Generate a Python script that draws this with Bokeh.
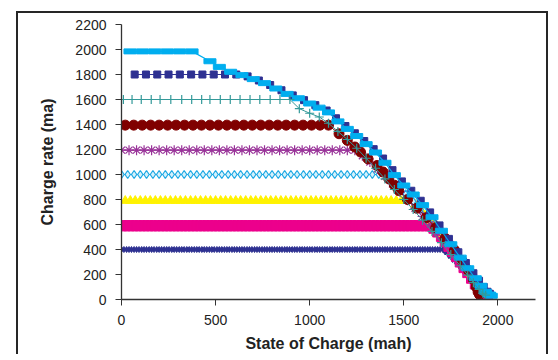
from bokeh.plotting import figure
from bokeh.models import Range1d, FixedTicker
from bokeh.embed import file_html
from bokeh.resources import INLINE

# ---------------- data ----------------
x_ticks = [0, 500, 1000, 1500, 2000]
y_ticks = [0, 200, 400, 600, 800, 1000, 1200, 1400, 1600, 1800, 2000, 2200]

# 400 ma series
s400_level = 400
s400_flat_x = [0, 13, 27, 40, 53, 67, 80, 93, 107, 120, 133, 147, 160, 173, 187, 200, 213, 227, 240, 253,
               267, 280, 293, 307, 320, 333, 347, 360, 373, 387, 400, 413, 427, 440, 453, 467, 480, 493, 507,
               520, 533, 547, 560, 573, 587, 600, 613, 627, 640, 653, 667, 680, 693, 707, 720, 733, 747, 760,
               773, 787, 800, 813, 827, 840, 853, 867, 880, 893, 907, 920, 933, 947, 960, 973, 987, 1000, 1013,
               1027, 1040, 1053, 1067, 1080, 1093, 1107, 1120, 1133, 1147, 1160, 1173, 1187, 1200, 1213, 1227,
               1240, 1253, 1267, 1280, 1293, 1307, 1320, 1333, 1347, 1360, 1373, 1387, 1400, 1413, 1427, 1440,
               1453, 1467, 1480, 1493, 1507, 1520, 1533, 1547, 1560, 1573, 1587, 1600, 1613, 1627, 1640, 1653,
               1667, 1680, 1693, 1707]
s400_taper_x = [1720, 1740, 1760, 1780, 1800, 1820, 1840, 1860, 1880, 1900, 1920, 1940]
s400_taper_y = [380, 350, 320, 290, 255, 220, 185, 150, 115, 85, 60, 40]

# 600 ma series
s600_level = 590
s600_flat_x = [0, 20, 40, 60, 80, 100, 120, 140, 160, 180, 200, 220, 240, 260, 280, 300, 320, 340, 360, 380,
               400, 420, 440, 460, 480, 500, 520, 540, 560, 580, 600, 620, 640, 660, 680, 700, 720, 740, 760,
               780, 800, 820, 840, 860, 880, 900, 920, 940, 960, 980, 1000, 1020, 1040, 1060, 1080, 1100, 1120,
               1140, 1160, 1180, 1200, 1220, 1240, 1260, 1280, 1300, 1320, 1340, 1360, 1380, 1400, 1420, 1440,
               1460, 1480, 1500, 1520, 1540, 1560, 1580, 1600, 1620, 1640]
s600_taper_x = [1660, 1680, 1700, 1720, 1740, 1760, 1780, 1800, 1820, 1840, 1860, 1880, 1900, 1920, 1945]
s600_taper_y = [570, 540, 505, 465, 425, 385, 345, 300, 255, 215, 170, 125, 85, 55, 35]

# 800 ma series
s800_level = 790
s800_flat_x = [20, 47, 73, 100, 127, 153, 180, 207, 233, 260, 287, 313, 340, 367, 393, 420, 447, 473, 500, 527,
               553, 580, 607, 633, 660, 687, 713, 740, 767, 793, 820, 847, 873, 900, 927, 953, 980, 1007, 1033,
               1060, 1087, 1113, 1140, 1167, 1193, 1220, 1247, 1273, 1300, 1327, 1353, 1380, 1407, 1433, 1460,
               1487, 1513, 1540]
s800_taper_x = [1560, 1590, 1620, 1650, 1680, 1710, 1740, 1770, 1800, 1830, 1855, 1880, 1900, 1920, 1940]
s800_taper_y = [760, 720, 675, 630, 580, 525, 465, 400, 335, 270, 210, 150, 100, 60, 40]

# 1000 ma series
s1000_level = 1000
s1000_flat_x = [0, 33, 67, 100, 133, 167, 200, 233, 267, 300, 333, 367, 400, 433, 467, 500, 533, 567, 600, 633,
                667, 700, 733, 767, 800, 833, 867, 900, 933, 967, 1000, 1033, 1067, 1100, 1133, 1167, 1200,
                1233, 1267, 1300, 1333, 1367, 1400]
s1000_taper_x = [1430, 1470, 1510, 1550, 1590, 1630, 1670, 1710, 1750, 1790, 1830, 1860, 1885, 1905, 1920, 1935]
s1000_taper_y = [960, 905, 845, 785, 720, 655, 585, 510, 435, 360, 280, 215, 150, 100, 60, 40]

# 1200 ma series
s1200_level = 1195
s1200_flat_x = [0, 40, 80, 120, 160, 200, 240, 280, 320, 360, 400, 440, 480, 520, 560, 600, 640, 680, 720, 760,
                800, 840, 880, 920, 960, 1000, 1040, 1080, 1120, 1160, 1200, 1240]
s1200_taper_x = [1280, 1320, 1360, 1400, 1440, 1480, 1520, 1560, 1600, 1640, 1680, 1720, 1760, 1800, 1840, 1870,
                 1895, 1915, 1930]
s1200_taper_y = [1150, 1100, 1045, 985, 925, 860, 795, 730, 665, 600, 530, 460, 390, 315, 240, 175, 115, 70, 45]

# 1400 ma series
s1400_level = 1395
s1400_flat_x = [20, 65, 110, 155, 200, 245, 290, 335, 380, 425, 470, 515, 560, 605, 650, 695, 740, 785, 830,
                875, 920, 965, 1010, 1055, 1100]
s1400_taper_x = [1156, 1200, 1240, 1270, 1310, 1358, 1390, 1420, 1450, 1473, 1520, 1570, 1620, 1670, 1720, 1770,
                 1810, 1845, 1870, 1885, 1895, 1902]
s1400_taper_y = [1326, 1273, 1220, 1180, 1125, 1072, 1020, 966, 915, 872, 800, 730, 655, 575, 490, 395, 310,
                 230, 160, 100, 60, 40]

# 1600 ma series
s1600_level = 1600
s1600_flat_x = [10, 56, 105, 158, 205, 262, 320, 373, 426, 470, 525, 578, 630, 683, 735, 790, 842, 895]
s1600_taper_x = [945, 1000, 1051, 1100, 1150, 1200, 1250, 1300, 1350, 1400, 1450, 1500, 1550, 1600, 1650, 1700,
                 1750, 1800, 1840, 1870, 1900, 1920, 1935]
s1600_taper_y = [1527, 1490, 1460, 1410, 1345, 1280, 1210, 1130, 1050, 965, 880, 800, 720, 635, 545, 455, 360,
                 270, 195, 135, 80, 50, 35]

# 1800 ma series
s1800_level = 1800
s1800_flat_x = [70, 130, 190, 250, 310, 370, 430, 490, 550, 610]
s1800_taper_x = [670, 730, 790, 850, 910, 970, 1030, 1090, 1140, 1190, 1240, 1290, 1340, 1390, 1440, 1490, 1540,
                 1590, 1640, 1690, 1740, 1790, 1830, 1870, 1900, 1925, 1945, 1958]
s1800_taper_y = [1785, 1752, 1716, 1674, 1633, 1595, 1555, 1512, 1450, 1388, 1330, 1268, 1203, 1128, 1035, 945,
                 870, 790, 697, 593, 485, 378, 292, 210, 150, 100, 62, 45]

# 2000 ma series
s2000_level = 1985
s2000_flat_x = [45, 111, 177, 243, 309, 375]
s2000_taper_x = [470, 520, 580, 640, 700, 760, 820, 880, 940, 1000, 1050, 1100, 1150, 1200, 1250, 1300, 1350,
                 1400, 1450, 1500, 1550, 1600, 1650, 1700, 1750, 1800, 1840, 1880, 1910, 1935, 1955, 1965]
s2000_taper_y = [1906, 1861, 1822, 1795, 1763, 1731, 1688, 1645, 1610, 1568, 1535, 1497, 1425, 1365, 1308, 1243,
                 1176, 1094, 995, 912, 840, 755, 658, 550, 442, 335, 250, 170, 110, 62, 40, 30]


def series(flat_x, level, taper_x, taper_y):
    return list(flat_x) + list(taper_x), [level] * len(flat_x) + list(taper_y)


# ---------------- figure ----------------
FONT = "Liberation Sans"
p = figure(frame_width=414, frame_height=275,
           x_range=Range1d(0, 2200), y_range=Range1d(0, 2200),
           output_backend="svg", toolbar_location=None,
           min_border_left=103, min_border_right=11, min_border_top=11, min_border_bottom=54)
p.styles = {"margin-left": "16px", "margin-top": "11px",
            "border-top": "2px solid #262626", "border-left": "2px solid #262626",
            "border-right": "2px solid #262626"}
p.outline_line_color = None
p.grid.visible = False
p.background_fill_color = "white"
p.border_fill_color = "white"

for ax in (p.xaxis[0], p.yaxis[0]):
    ax.axis_line_color = "#333333"
    ax.axis_line_width = 1.3
    ax.major_tick_line_color = "#333333"
    ax.major_tick_in = 0
    ax.major_tick_out = 6
    ax.minor_tick_line_color = None
    ax.major_label_text_font = FONT
    ax.major_label_text_font_size = "14px"
    ax.major_label_text_color = "#222222"
    ax.axis_label_text_font = FONT
    ax.axis_label_text_font_size = "16px"
    ax.axis_label_text_font_style = "bold"
    ax.axis_label_text_color = "#222222"

p.xaxis.ticker = FixedTicker(ticks=x_ticks)
p.yaxis.ticker = FixedTicker(ticks=y_ticks)
p.xaxis.axis_label = "State of Charge (mah)"
p.yaxis.axis_label = "Charge rate (ma)"
p.xaxis.major_label_standoff = 9
p.xaxis.axis_label_standoff = 7
p.yaxis.major_label_standoff = 9
p.yaxis.axis_label_standoff = 16

# 400
x, y = series(s400_flat_x, s400_level, s400_taper_x, s400_taper_y)
p.line(x, y, line_color="#2E3192", line_width=1.5)
p.scatter(x, y, marker="diamond", size=6, fill_color="#2E3192", line_color="#2E3192")
# 600
x, y = series(s600_flat_x, s600_level, s600_taper_x, s600_taper_y)
p.line(x, y, line_color="#EC008C", line_width=1)
p.scatter(x, y, marker="square", size=10, fill_color="#EC008C", line_color="#EC008C")
# 800
x, y = series(s800_flat_x, s800_level, s800_taper_x, s800_taper_y)
p.line(x, y, line_color="#FFF200", line_width=1)
p.scatter(x, y, marker="triangle", size=9, fill_color="#FFF200", line_color="#FFF200")
# 1000
x, y = series(s1000_flat_x, s1000_level, s1000_taper_x, s1000_taper_y)
p.line(x, y, line_color="#1CA8E3", line_width=1.2)
p.scatter(x, y, marker="diamond", size=8, fill_color="#D6F1FC", line_color="#1CA8E3", line_width=1.2)
# 1200
x, y = series(s1200_flat_x, s1200_level, s1200_taper_x, s1200_taper_y)
p.line(x, y, line_color="#993399", line_width=1)
p.scatter(x, y, marker="asterisk", size=10, line_color="#993399", line_width=1.2)
# 1400
x, y = series(s1400_flat_x, s1400_level, s1400_taper_x, s1400_taper_y)
p.line(x, y, line_color="#800000", line_width=1)
p.scatter(x, y, marker="circle", size=10, fill_color="#800000", line_color="#800000")
# 1800
x, y = series(s1800_flat_x, s1800_level, s1800_taper_x, s1800_taper_y)
p.line(x, y, line_color="#2E3192", line_width=1.2)
p.scatter(x, y, marker="square", size=7, fill_color="#2E3192", line_color="#2E3192")
# 2000
x, y = series(s2000_flat_x, s2000_level, s2000_taper_x, s2000_taper_y)
p.line(x, y, line_color="#00AEEF", line_width=1.2)
p.rect(x, y, width=12, height=5, width_units="screen", height_units="screen",
       fill_color="#00AEEF", line_color="#00AEEF")
# 1600
x, y = series(s1600_flat_x, s1600_level, s1600_taper_x, s1600_taper_y)
p.line(x, y, line_color="#339999", line_width=1)
p.scatter(x, y, marker="cross", size=9, line_color="#339999", line_width=1.2)

open("out.html", "w").write(file_html(p, INLINE))
